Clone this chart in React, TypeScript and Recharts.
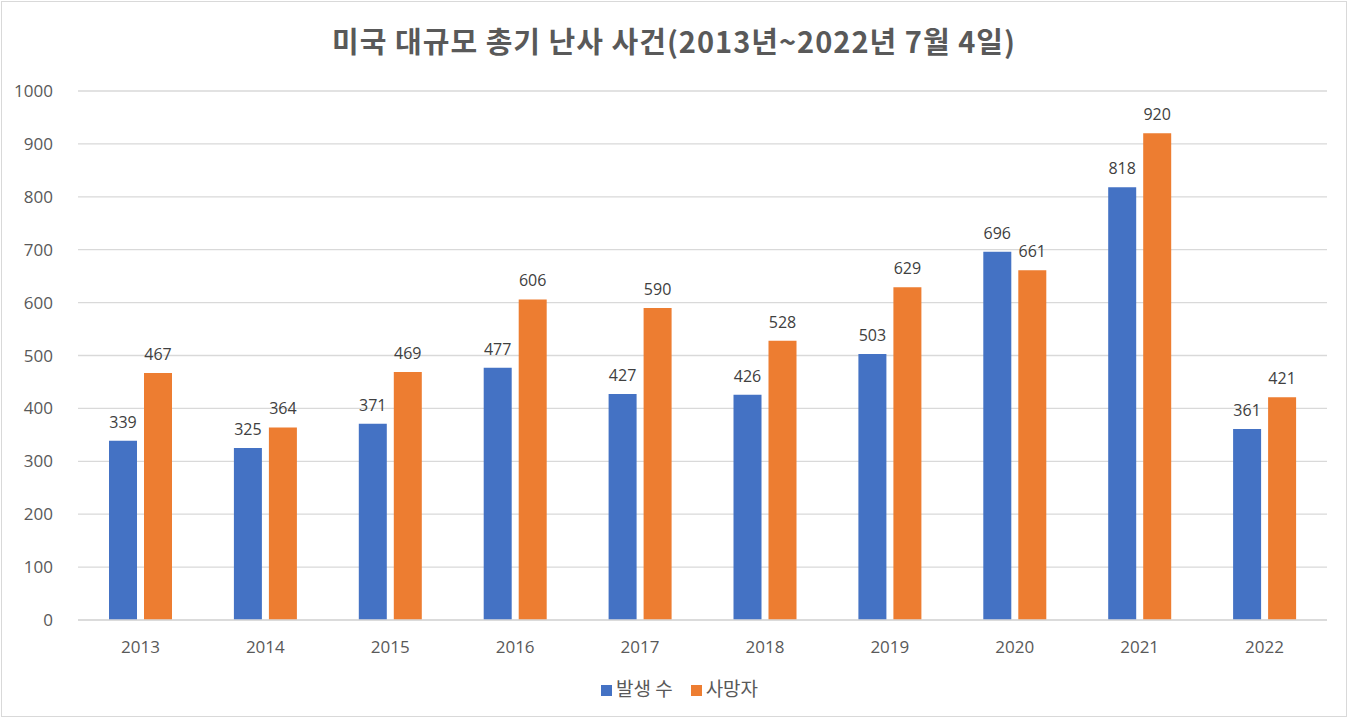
import { BarChart, Bar, XAxis, YAxis, CartesianGrid, Legend, LabelList } from 'recharts';

const years = ['2013', '2014', '2015', '2016', '2017', '2018', '2019', '2020', '2021', '2022'];
const incidents = [339, 325, 371, 477, 427, 426, 503, 696, 818, 361];
const deaths = [467, 364, 469, 606, 590, 528, 629, 661, 920, 421];
const yTicks = [0, 100, 200, 300, 400, 500, 600, 700, 800, 900, 1000];

const data = years.map((year, i) => ({ year, incidents: incidents[i], deaths: deaths[i] }));

const font = '"Noto Sans CJK KR", "Noto Sans", sans-serif';
const numFont = '"Open Sans", "Noto Sans", sans-serif';

export default function App() {
  return (
    <div style={{ position: 'absolute', left: 0, top: 0, width: 1348, height: 718, fontFamily: font }}>
      <div
        style={{
          position: 'absolute',
          left: 1,
          top: 1,
          width: 1344,
          height: 714,
          border: '1px solid #d9d9d9',
          background: '#fff',
        }}
      />
      <div
        style={{
          position: 'absolute',
          left: 0,
          top: 19,
          width: 1348,
          textAlign: 'center',
          fontSize: 29,
          fontWeight: 700,
          color: '#595959',
          letterSpacing: 1,
        }}
      >
        미국 대규모 총기 난사 사건(2013년~2022년 7월 4일)
      </div>
      <div style={{ position: 'absolute', left: 1, top: 1 }}>
        <BarChart
          width={1346}
          height={716}
          data={data}
          margin={{ top: 90, right: 20, left: 5, bottom: 40 }}
          barSize={28}
          barGap={7}
        >
          <CartesianGrid vertical={false} stroke="#d9d9d9" strokeWidth={1.3} />
          <XAxis
            dataKey="year"
            height={30}
            tickLine={false}
            axisLine={{ stroke: '#d9d9d9', strokeWidth: 1.3 }}
            tickMargin={15}
            tick={{ fontSize: 17, fill: '#595959', fontFamily: numFont }}
          />
          <YAxis
            width={72}
            domain={[0, 1000]}
            ticks={yTicks}
            interval={0}
            tickLine={false}
            axisLine={false}
            tickMargin={19}
            tick={{ fontSize: 17, fill: '#595959', fontFamily: numFont }}
          />
          <Legend
            verticalAlign="bottom"
            align="center"
            iconType="square"
            iconSize={11}
            wrapperStyle={{ bottom: 16, fontSize: 19, fontFamily: font, color: '#595959', paddingLeft: 18 }}
            formatter={(value, _entry, index) => (
              <span style={{ color: '#595959', marginRight: index === 0 ? 8 : 0 }}>{value}</span>
            )}
          />
          <Bar dataKey="incidents" name="발생 수" fill="#4472C4" isAnimationActive={false}>
            <LabelList dataKey="incidents" position="top" offset={13} fill="#404040" fontSize={16} fontFamily={numFont} />
          </Bar>
          <Bar dataKey="deaths" name="사망자" fill="#ED7D31" isAnimationActive={false}>
            <LabelList dataKey="deaths" position="top" offset={13} fill="#404040" fontSize={16} fontFamily={numFont} />
          </Bar>
        </BarChart>
      </div>
    </div>
  );
}
